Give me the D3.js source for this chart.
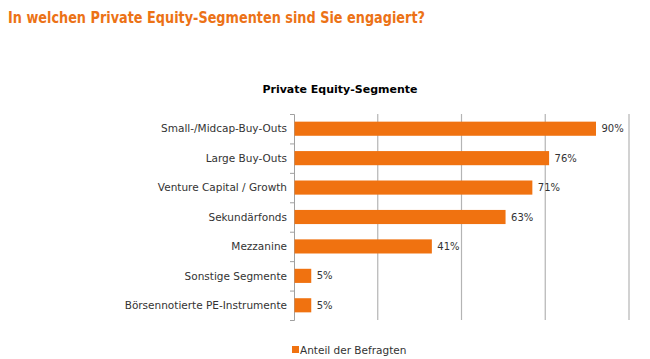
<!DOCTYPE html>
<html><head><meta charset="utf-8">
<script src="https://cdn.jsdelivr.net/npm/d3@7"></script>
<style>body{margin:0;background:#fff;} svg{display:block;}</style>
</head><body>
<svg id="c" width="650" height="359"></svg>
<script>
const categories = ["Small-/Midcap-Buy-Outs","Large Buy-Outs","Venture Capital / Growth","Sekundärfonds","Mezzanine","Sonstige Segmente","Börsennotierte PE-Instrumente"];
const values = [90,76,71,63,41,5,5];
const xTicks = [0,25,50,75,100];
const seriesName = "Anteil der Befragten";
const title = "In welchen Private Equity-Segmenten sind Sie engagiert?";
const chartTitle = "Private Equity-Segmente";

const svg = d3.select("#c");
const font = "'DejaVu Sans', Verdana, sans-serif";
const orange = "#F07210";

const x = d3.scaleLinear().domain([0,100]).range([294,629]);
const y = d3.scaleBand().domain(categories).range([114,320]).paddingInner(0.52).paddingOuter(0.26);

svg.append("text").attr("x",8).attr("y",23).text(title)
  .attr("font-family",font).attr("font-weight","bold").attr("font-size",15)
  .attr("textLength",417).attr("lengthAdjust","spacingAndGlyphs").attr("fill","#EC7216");

svg.append("text").attr("x",340).attr("y",93).attr("text-anchor","middle").text(chartTitle)
  .attr("font-family",font).attr("font-weight","bold").attr("font-size",11).attr("fill","#000");

// gridlines
svg.append("g").selectAll("line").data(xTicks.slice(1)).join("line")
  .attr("x1",d=>x(d)).attr("x2",d=>x(d)).attr("y1",114).attr("y2",320)
  .attr("stroke","#b4b4b4").attr("stroke-width",1.2);

// y axis
const yAxis = d3.axisLeft(d3.scaleLinear().domain([0,categories.length]).range([114,320]))
  .ticks(categories.length).tickSize(4).tickFormat("");
const ga = svg.append("g").attr("transform","translate(294,0)").call(yAxis);
ga.select(".domain").attr("stroke","#a0a0a0");
ga.selectAll(".tick line").attr("stroke","#a0a0a0");

// category labels
svg.append("g").selectAll("text").data(categories).join("text")
  .attr("x",287).attr("y",d=>y(d)+y.bandwidth()/2).attr("dy","0.35em")
  .attr("text-anchor","end").text(d=>d)
  .attr("font-family",font).attr("font-size",10.5).attr("fill","#333");

// bars
svg.append("g").selectAll("rect").data(values).join("rect")
  .attr("x",x(0)+0.5).attr("y",(d,i)=>y(categories[i]))
  .attr("width",d=>x(d)-x(0)).attr("height",y.bandwidth()).attr("fill",orange);

svg.append("g").selectAll("text").data(values).join("text")
  .attr("x",d=>x(d)+6).attr("y",(d,i)=>y(categories[i])+y.bandwidth()/2).attr("dy","0.35em")
  .text(d=>d+"%").attr("font-family",font).attr("font-size",10).attr("fill","#333");

// legend
svg.append("rect").attr("x",292).attr("y",346).attr("width",7).attr("height",7).attr("fill",orange);
svg.append("text").attr("x",300).attr("y",353.5).text(seriesName)
  .attr("font-family",font).attr("font-size",10.5).attr("fill","#333");
</script>
</body></html>
